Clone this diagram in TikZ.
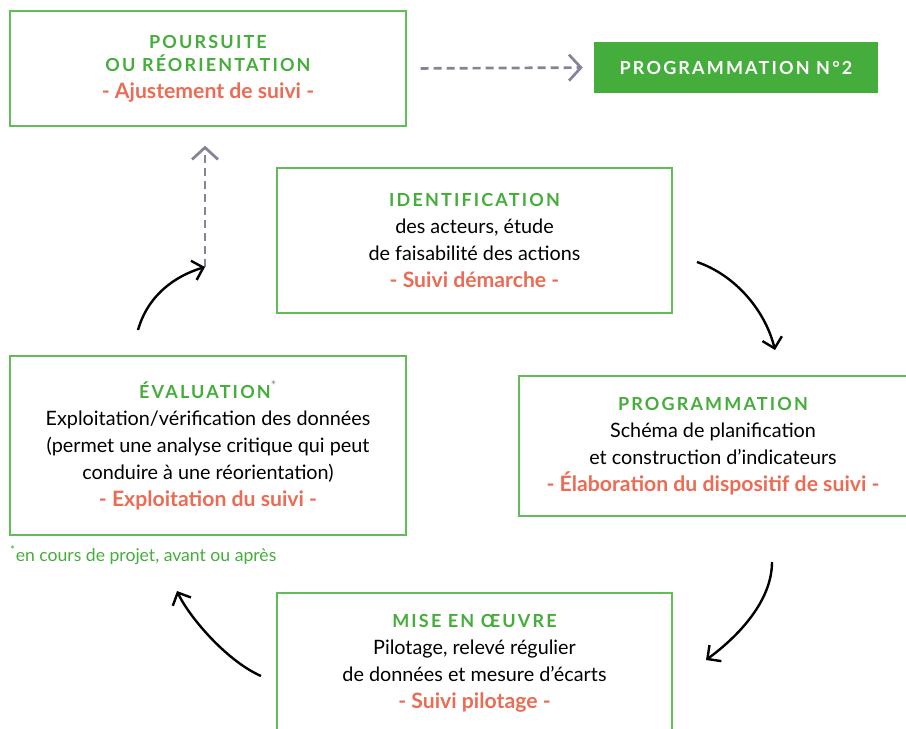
\documentclass[tikz,border=0pt]{standalone}
\usepackage{fontspec}
\setmainfont{Lato}
\newfontfamily\ttlfont{Lato}[LetterSpace=12]
\usetikzlibrary{arrows.meta}
\definecolor{grn}{HTML}{45AD3B}
\definecolor{boxgrn}{HTML}{62BD58}
\definecolor{sred}{HTML}{EC6B54}
\definecolor{gry}{HTML}{85839A}
\newcommand\ttlA[1]{{\ttlfont\bfseries\fontsize{18}{27}\selectfont\color{grn}#1}}
\newcommand\redA[1]{{\bfseries\fontsize{21.2}{27}\selectfont\color{sred}#1}}
\begin{document}
\begin{tikzpicture}[x=1pt,y=-1pt,
  box/.style={draw=boxgrn, line width=1.3pt, align=center, inner sep=0pt,
    font=\fontsize{19.8}{27}\selectfont},
  blackarrow/.style={line width=2.4pt, -{Straight Barb[length=10pt,width=20pt,line width=2.4pt]}},
  grayarrow/.style={draw=gry, line width=2.7pt, dash pattern=on 8pt off 5pt,
    -{Straight Barb[length=12pt,width=26pt,line width=2.7pt]}}]
\useasboundingbox (0,0) rectangle (906,729);

\node[box, minimum width=396pt, minimum height=115pt] (pour) at (208,68.5)
  {\ttlA{POURSUITE}\\[-4pt]\ttlA{OU RÉORIENTATION}\\\redA{- Ajustement de suivi -}};

\node[fill=grn, minimum width=284pt, minimum height=51pt, inner sep=0pt,
  font=\ttlfont\bfseries\fontsize{18}{20}\selectfont, text=white] (prog2) at (736,67.5)
  {PROGRAMMATION N°2};

\node[box, minimum width=395pt, minimum height=145pt] (ident) at (474.5,240.5)
  {\ttlA{IDENTIFICATION}\\des acteurs, étude\\de faisabilité des actions\\\redA{- Suivi démarche -}};

\node[box, minimum width=388pt, minimum height=140pt] (prog) at (713,446)
  {\ttlA{PROGRAMMATION}\\Schéma de planification\\et construction d’indicateurs\\\redA{- Élaboration du dispositif de suivi -}};

\node[box, minimum width=396pt, minimum height=179pt] (eval) at (208,445.5)
  {\ttlA{ÉVALUATION}\textsuperscript{\color{gry}\fontsize{13}{13}\selectfont*}\\Exploitation/vérification des données\\(permet une analyse critique qui peut\\conduire à une réorientation)\\\redA{- Exploitation du suivi -}};

\node[anchor=west, inner sep=0pt, text=grn, font=\fontsize{17.6}{20}\selectfont] (note) at (10,555)
  {\textsuperscript{\fontsize{12}{12}\selectfont*}en cours de projet, avant ou après};

\node[box, minimum width=395pt, minimum height=140pt] (mise) at (474.5,663)
  {\ttlA{MISE EN ŒUVRE}\\Pilotage, relevé régulier\\de données et mesure d’écarts\\\redA{- Suivi pilotage -}};

% connector end points
\coordinate (j) at (205,267);
\coordinate (a1) at (138,330);
\coordinate (b0) at (697,262);
\coordinate (b1) at (775,350);
\coordinate (c0) at (772,562);
\coordinate (c1) at (706,660);
\coordinate (d0) at (261,676);
\coordinate (d1) at (177,591);

\draw[grayarrow, shorten <=14pt, shorten >=11pt] (pour.east) -- (prog2.west);
\draw[grayarrow, shorten >=19pt] (j) -- (j |- pour.south);

\draw[blackarrow] (a1) .. controls (148,295) and (175,276) .. (j);
\draw[blackarrow] (b0) .. controls (735,275) and (765,310) .. (b1);
\draw[blackarrow] (c0) .. controls (772,600) and (740,635) .. (c1);
\draw[blackarrow] (d0) .. controls (225,660) and (188,615) .. (d1);
\end{tikzpicture}
\end{document}
